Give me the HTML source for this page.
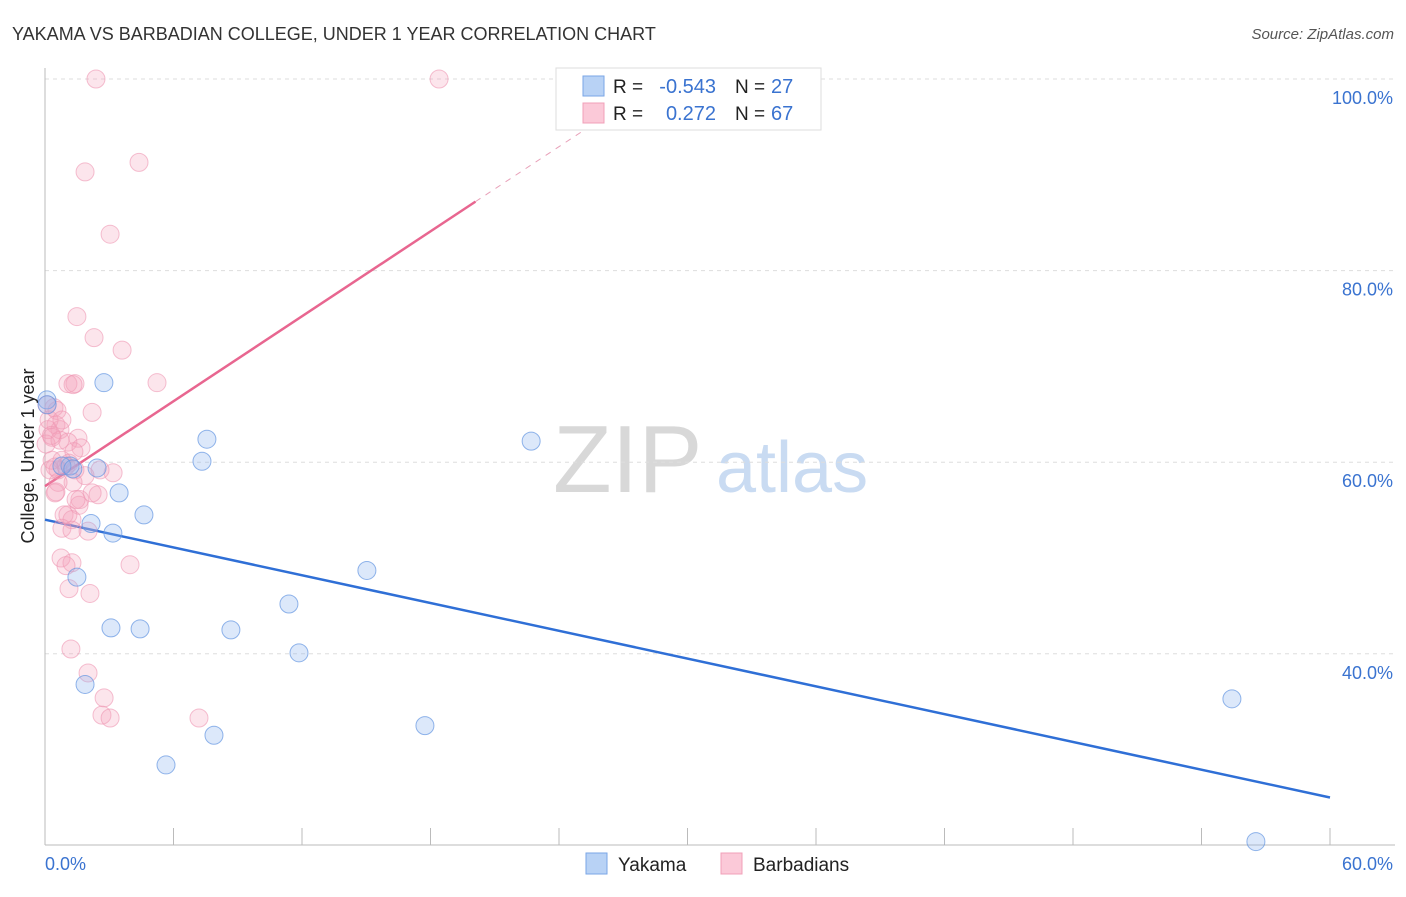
<!DOCTYPE html>
<html><head><meta charset="utf-8"><style>
body{margin:0;background:#fff;font-family:"Liberation Sans",sans-serif}
svg text{font-family:"Liberation Sans",sans-serif}
</style></head><body>
<svg id="chart" width="1406" height="892" viewBox="0 0 1406 892" xmlns="http://www.w3.org/2000/svg">
<text x="12" y="40" font-size="18" fill="#333">YAKAMA VS BARBADIAN COLLEGE, UNDER 1 YEAR CORRELATION CHART</text>
<text x="1394" y="39" font-size="15" fill="#555" text-anchor="end" font-style="italic">Source: ZipAtlas.com</text>
<g>
<text x="553" y="492" font-size="96" font-family="Liberation Serif,serif" fill="#d8d8d8">ZIP</text>
<text x="716" y="492" font-size="72" fill="#c9dbf2">atlas</text>
</g>
<g id="grid"></g>
<g id="axes"></g>
<g id="trends"></g>
<g id="points"></g>
<text transform="translate(34,456) rotate(-90)" font-size="18" fill="#222" text-anchor="middle">College, Under 1 year</text>
<g>
<rect x="556" y="68" width="265" height="62" fill="#fff" stroke="#ddd"/>
<rect x="583" y="76" width="21" height="20" fill="#b8d2f5" stroke="#7aa6e6"/>
<rect x="583" y="103" width="21" height="20" fill="#fbc9d8" stroke="#f0a0b8"/>
<text x="613" y="93" font-size="19" fill="#222">R =</text>
<text x="716" y="93" font-size="20" fill="#3a73d0" text-anchor="end">-0.543</text>
<text x="735" y="93" font-size="19" fill="#222">N =</text>
<text x="771" y="93" font-size="20" fill="#3a73d0">27</text>
<text x="613" y="120" font-size="19" fill="#222">R =</text>
<text x="716" y="120" font-size="20" fill="#3a73d0" text-anchor="end">0.272</text>
<text x="735" y="120" font-size="19" fill="#222">N =</text>
<text x="771" y="120" font-size="20" fill="#3a73d0">67</text>
</g>
<g>
<rect x="586" y="853" width="21" height="21" fill="#b8d2f5" stroke="#7aa6e6"/>
<text x="618" y="871" font-size="19" fill="#222">Yakama</text>
<rect x="721" y="853" width="21" height="21" fill="#fbc9d8" stroke="#f0a0b8"/>
<text x="753" y="871" font-size="19" fill="#222">Barbadians</text>
</g>
</svg>
<script>
const yTicks=[100,80,60,40];
const yTickLabels=["100.0%","80.0%","60.0%","40.0%"];
const xTickLabels=["0.0%","60.0%"];
const yakamaX=[0.09,2.75,7.56,7.33,22.7,2.43,1.17,0.79,3.46,4.62,2.15,3.17,1.49,15.03,11.39,3.08,4.44,8.68,11.86,1.87,7.89,17.74,5.65,55.42,56.54,0.1,1.3];
const yakamaY=[66.5,68.3,62.4,60.1,62.2,59.4,59.6,59.6,56.8,54.5,53.6,52.6,48.0,48.7,45.2,42.7,42.6,42.5,40.1,36.8,31.5,32.5,28.4,35.3,20.4,66.0,59.3];
const barbX=[2.38,18.4,4.39,1.87,3.04,1.49,2.29,3.6,5.23,1.07,1.4,1.31,2.2,0.09,0.42,0.56,0.51,0.7,0.14,0.33,1.54,1.07,1.68,1.35,0.79,0.47,0.61,1.12,3.18,1.87,1.31,0.61,2.48,0.47,2.2,1.63,1.59,0.89,1.07,1.26,2.01,0.79,1.26,0.75,1.26,0.98,3.97,1.12,2.1,1.21,2.01,2.76,2.66,3.04,7.19,0.33,0.23,0.05,0.19,0.51,0.79,0.98,1.45,0.7,1.4,2.57,0.3];
const barbY=[100,100,91.3,90.3,83.8,75.2,73.0,71.7,68.3,68.2,68.2,68.1,65.2,66.0,65.7,65.4,63.9,63.4,63.4,62.6,62.5,62.1,61.5,61.1,60.2,59.5,59.2,59.9,58.9,58.6,57.9,57.9,56.6,56.8,56.8,56.1,55.5,54.5,54.5,54.0,52.8,53.1,52.9,50.0,49.5,49.2,49.3,46.8,46.3,40.5,38.0,35.4,33.6,33.3,33.3,60.2,59.2,61.9,64.4,56.9,64.4,59.6,56.1,62.3,59.2,59.2,62.8];
const yakamaTrend=[[0,54.0],[60,25.0]];
const barbTrend=[[0,57.5],[20.1,87.2]];
const barbTrendDash=[[20.1,87.2],[28.8,100]];
const NS="http://www.w3.org/2000/svg";
const xs=v=>45+v/60*1285;
const ys=v=>79+(100-v)*9.58;
function mk(tag,attrs,parent){const e=document.createElementNS(NS,tag);for(const k in attrs)e.setAttribute(k,attrs[k]);document.getElementById(parent).appendChild(e);return e;}
yTicks.forEach((t,i)=>{
 let l=mk('line',{x1:45,x2:1395,y1:ys(t),y2:ys(t),stroke:'#ddd','stroke-dasharray':'4,4'},'grid');
 
 
 let tx=mk('text',{x:1393,y:ys(t)+25,'font-size':18,fill:'#3a73d0','text-anchor':'end'},'grid');
 tx.textContent=yTickLabels[i];
 
 
});
let ya=mk('line',{x1:45,x2:45,y1:68,y2:845,stroke:'#bbb'},'axes');


let xa=mk('line',{x1:45,x2:1395,y1:845,y2:845,stroke:'#bbb'},'axes');


for(let i=0;i<=10;i++){
 let tk=mk('line',{x1:xs(i*6),x2:xs(i*6),y1:828,y2:845,stroke:'#bbb'},'axes');
 
 
}
let xl0=mk('text',{x:45,y:870,'font-size':18,fill:'#3a73d0'},'axes');xl0.textContent=xTickLabels[0];


let xl1=mk('text',{x:1393,y:870,'font-size':18,fill:'#3a73d0','text-anchor':'end'},'axes');xl1.textContent=xTickLabels[1];


function ln(d,col,dash,name){let e=mk('line',{x1:xs(d[0][0]),y1:ys(d[0][1]),x2:xs(d[1][0]),y2:ys(d[1][1]),stroke:col,'stroke-width':dash?1:2.5,'stroke-dasharray':dash||'none'},'trends');
 
 }
ln(barbTrendDash,'#e8a0b8','6,6','barbadians-trend-extension');
ln(barbTrend,'#e86690',null,'barbadians-trend-line');
ln(yakamaTrend,'#2f6fd6',null,'yakama-trend-line');
barbX.forEach((x,i)=>{let c=mk('circle',{cx:xs(x),cy:ys(barbY[i]),r:9,fill:'rgba(246,160,185,0.28)',stroke:'rgba(238,150,178,0.6)','stroke-width':1},'points');
 
 });
yakamaX.forEach((x,i)=>{let c=mk('circle',{cx:xs(x),cy:ys(yakamaY[i]),r:9,fill:'rgba(140,180,238,0.3)',stroke:'rgba(100,150,225,0.7)','stroke-width':1},'points');
 
 });
</script>
</body></html>
